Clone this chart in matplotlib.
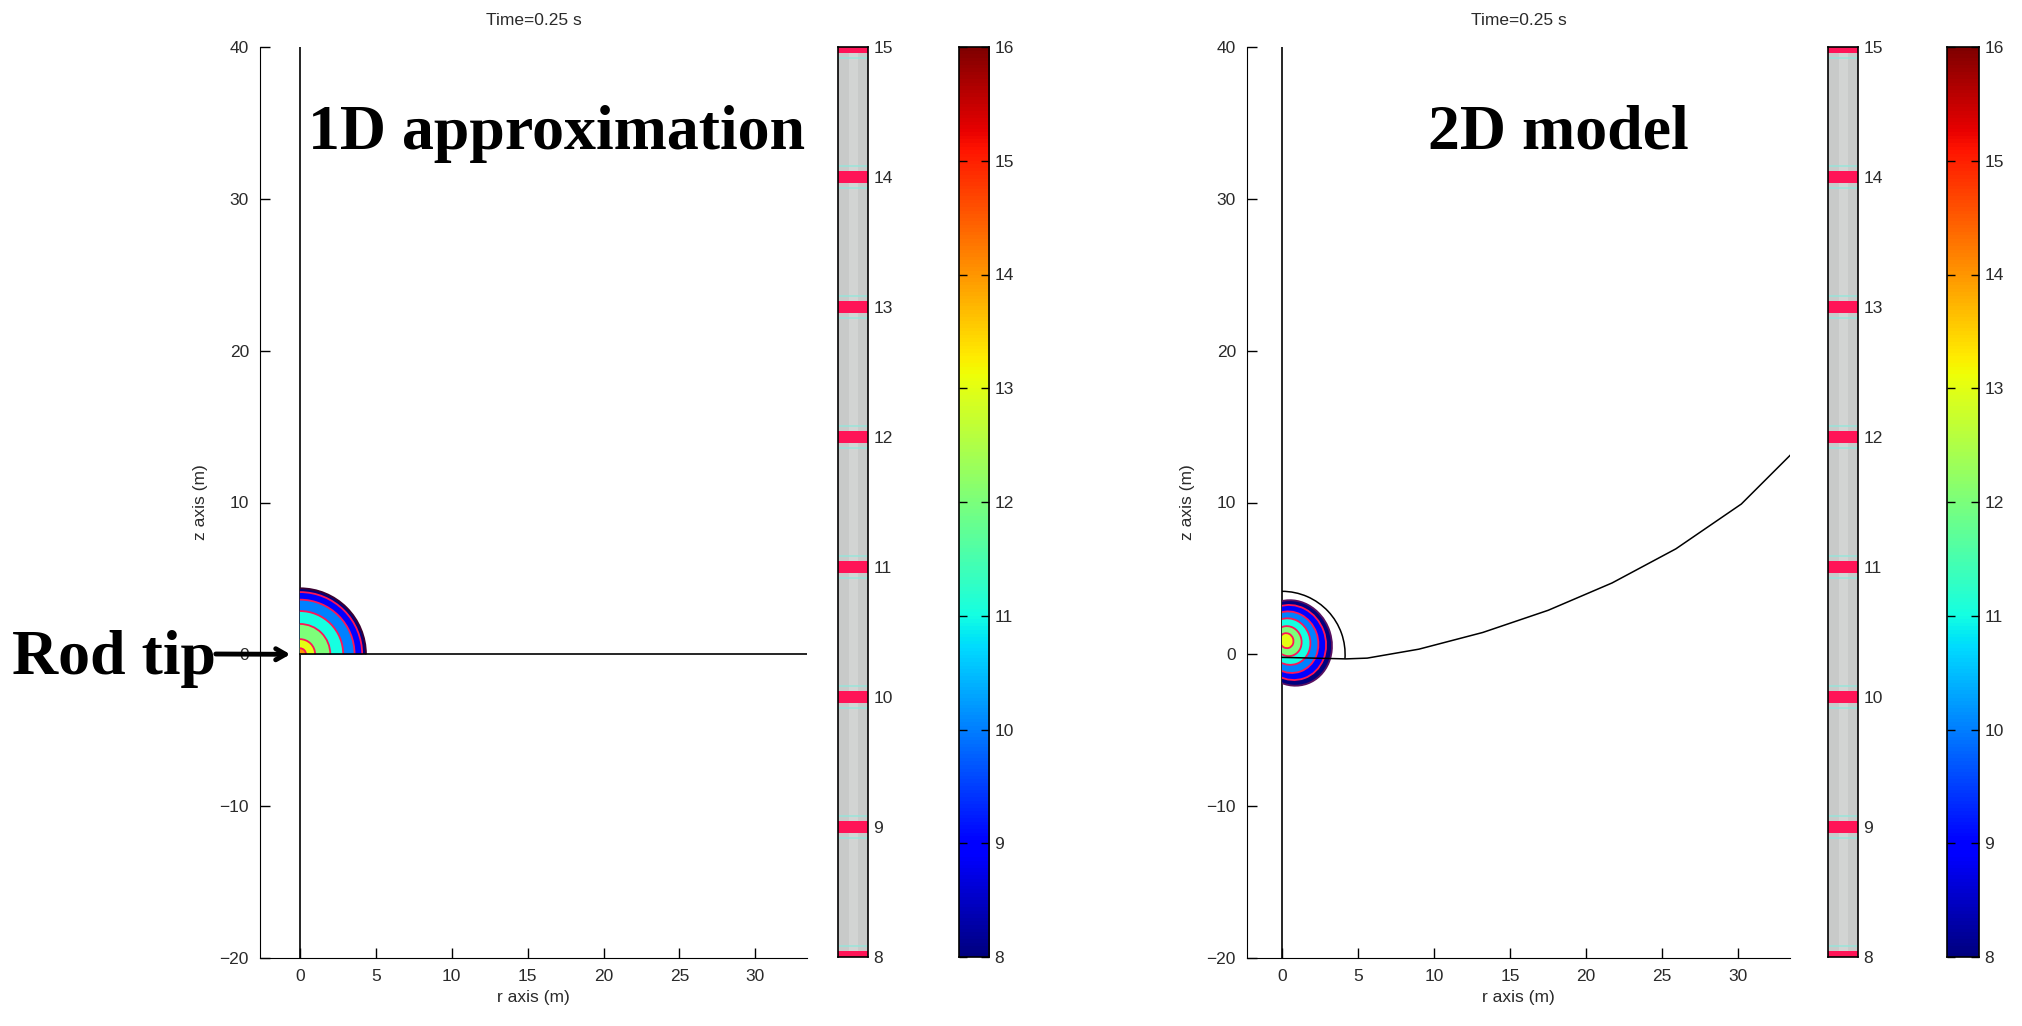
"""Rod-tip front at t=0.25 s: 1D approximation vs 2D model.
Two panels (r-z plane, equal scale), each with a contour-level bar and a jet colorbar.
"""
import numpy as np
import matplotlib
matplotlib.use('Agg')
import matplotlib.pyplot as plt
from matplotlib.colors import Normalize
from matplotlib.patches import Wedge, Ellipse, Arc, Rectangle

# ── Data ──────────────────────────────────────────────────────────────────────
TITLE      = 'Time=0.25 s'
R_TICKS    = [0, 5, 10, 15, 20, 25, 30]
Z_TICKS    = [-20, -10, 0, 10, 20, 30, 40]
LINE_TICKS = [8, 9, 10, 11, 12, 13, 14, 15]          # contour-line bar
CBAR_TICKS = [8, 9, 10, 11, 12, 13, 14, 15, 16]      # jet colorbar

# 1D approximation: concentric quarter-circle levels around the rod tip
LEVELS_1D = [8, 9, 10, 11, 12, 13, 14]
RADII_1D  = [4.35, 4.1, 3.6, 2.85, 2.0, 1.0, 0.4]
FRONT_1D_R = [0.0, 33.4]
FRONT_1D_Z = [0.0, 0.0]

# 2D model: distorted (tilted) levels
LEVELS_2D = [8, 9, 10, 11, 12, 13]
CR_2D  = [0.70, 0.62, 0.52, 0.45, 0.38, 0.30]
CZ_2D  = [0.75, 0.78, 0.80, 0.84, 0.87, 0.90]
W_2D   = [5.1, 4.5, 3.7, 2.8, 1.8, 0.9]
H_2D   = [5.7, 5.0, 4.1, 3.1, 2.0, 1.0]
ANG_2D = [20, 20, 20, 20, 20, 20]
ARC_2D_RADIUS = 4.15
FRONT_2D_R = [0.0, 4.2, 5.6, 9.0, 13.2, 17.5, 21.7, 25.9, 30.2, 33.4]
FRONT_2D_Z = [-0.2, -0.3, -0.25, 0.34, 1.44, 2.9, 4.7, 6.95, 9.9, 13.1]

# ── Style ─────────────────────────────────────────────────────────────────────
W_PX, H_PX = 2022, 1026
CMAP = plt.get_cmap('jet')
NORM = Normalize(vmin=8, vmax=16)
LINE_RED = '#ff1457'
TICK_FS = 12.5
BIG_FS = 46
plt.rcParams['font.family'] = ['Liberation Sans', 'DejaVu Sans']


def fig_rect(x0, y0, x1, y1):
    """pixel box (top-left origin) -> figure fraction [l, b, w, h]"""
    return [x0 / W_PX, 1 - y1 / H_PX, (x1 - x0) / W_PX, (y1 - y0) / H_PX]


fig = plt.figure(figsize=(W_PX / 100, H_PX / 100), dpi=100)


def main_axes(rect, xlim):
    ax = fig.add_axes(rect)
    ax.set_xlim(*xlim)
    ax.set_ylim(-20, 40)
    for s in ('top', 'right'):
        ax.spines[s].set_visible(False)
    ax.set_xticks(R_TICKS)
    ax.set_yticks(Z_TICKS)
    ax.tick_params(direction='in', length=7, width=1, labelsize=TICK_FS,
                   labelcolor='#2a2a2a', pad=8)
    ax.set_xlabel('r axis (m)', fontsize=TICK_FS, color='#2a2a2a', labelpad=4)
    ax.set_ylabel('z axis (m)', fontsize=TICK_FS, color='#2a2a2a', labelpad=8)
    ax.set_title(TITLE, fontsize=TICK_FS, color='#2a2a2a', pad=16)
    ax.axvline(0, color='black', lw=1.2)
    return ax


def line_bar(rect):
    ax = fig.add_axes(rect)
    ax.set_facecolor('#c8cac9')
    ax.axvspan(0.35, 0.65, color='#d2d4d3', lw=0)
    for lv in LINE_TICKS:
        ax.axhspan(lv - 0.045, lv + 0.045, color=LINE_RED, lw=0)
        ax.axhline(lv + 0.085, color='#8fe8dc', lw=1.2, alpha=0.8)
        ax.axhline(lv - 0.085, color='#8fe8dc', lw=1.2, alpha=0.8)
    ax.set_xlim(0, 1)
    ax.set_ylim(LINE_TICKS[0], LINE_TICKS[-1])
    ax.set_xticks([])
    ax.yaxis.tick_right()
    ax.set_yticks(LINE_TICKS)
    ax.tick_params(length=0, labelsize=TICK_FS, labelcolor='#2a2a2a', pad=4)
    for s in ax.spines.values():
        s.set_linewidth(1.2)
    return ax


def jet_bar(rect):
    ax = fig.add_axes(rect)
    grad = np.linspace(CBAR_TICKS[0], CBAR_TICKS[-1], 256).reshape(-1, 1)
    ax.imshow(grad, aspect='auto', cmap=CMAP, norm=NORM, origin='lower',
              extent=[0, 1, CBAR_TICKS[0], CBAR_TICKS[-1]])
    ax.set_xticks([])
    ax.yaxis.tick_right()
    ax.set_yticks(CBAR_TICKS)
    ax.tick_params(axis='y', direction='in', left=True, right=True, length=6,
                   width=1, labelsize=TICK_FS, labelcolor='#2a2a2a', pad=4)
    for s in ax.spines.values():
        s.set_linewidth(1.2)
    return ax


# ── Left panel: 1D approximation ──────────────────────────────────────────────
axL = main_axes(fig_rect(260, 47, 807, 958), (-2.63, 33.4))
for lv, r in zip(LEVELS_1D, RADII_1D):
    axL.add_patch(Wedge((0, 0), r, 0, 90, facecolor=CMAP(NORM(lv)),
                        edgecolor='none', zorder=2))
for lv, r in zip(LEVELS_1D, RADII_1D):
    axL.add_patch(Arc((0, 0), 2 * r, 2 * r, theta1=0, theta2=90,
                      color=LINE_RED if lv > 8 else '#3a0030', lw=1.3, zorder=3))
axL.plot(FRONT_1D_R, FRONT_1D_Z, color='black', lw=1.2, zorder=4)
axL.text(16.9, 33.3, '1D approximation', ha='center', va='baseline',
         fontsize=BIG_FS, fontweight='bold', family='Liberation Serif')
line_bar(fig_rect(838, 47, 868, 957))
jet_bar(fig_rect(959, 47, 989, 957))

# rod tip marker
axL.annotate('', xy=(-0.45, 0), xycoords='data',
             xytext=(213 / W_PX, 1 - 654 / H_PX), textcoords='figure fraction',
             arrowprops=dict(arrowstyle='->,head_length=0.7,head_width=0.4',
                             lw=3.5, color='black'))
fig.text(114 / W_PX, 1 - 674 / H_PX, 'Rod tip', ha='center', va='baseline',
         fontsize=BIG_FS, fontweight='bold', family='Liberation Serif')

# ── Right panel: 2D model ─────────────────────────────────────────────────────
axR = main_axes(fig_rect(1247, 47, 1790, 958), (-2.3, 33.4))
clip = Rectangle((0, -20), 40, 60, transform=axR.transData)
for lv, cr, cz, w, h, a in zip(LEVELS_2D, CR_2D, CZ_2D, W_2D, H_2D, ANG_2D):
    e = Ellipse((cr, cz), w, h, angle=a, facecolor=CMAP(NORM(lv)),
                edgecolor=LINE_RED if lv > 8 else '#5a1060', lw=1.3, zorder=2)
    axR.add_patch(e)
    e.set_clip_path(clip)
axR.add_patch(Arc((0, 0), 2 * ARC_2D_RADIUS, 2 * ARC_2D_RADIUS, theta1=-4,
                  theta2=90, color='black', lw=1.1, zorder=4))
axR.plot(FRONT_2D_R, FRONT_2D_Z, color='black', lw=1.1, zorder=4)
axR.text(18.2, 33.3, '2D model', ha='center', va='baseline',
         fontsize=BIG_FS, fontweight='bold', family='Liberation Serif')
line_bar(fig_rect(1828, 47, 1858, 957))
jet_bar(fig_rect(1947, 47, 1979, 957))

fig.savefig('out.png', dpi=100)
plt.close(fig)
